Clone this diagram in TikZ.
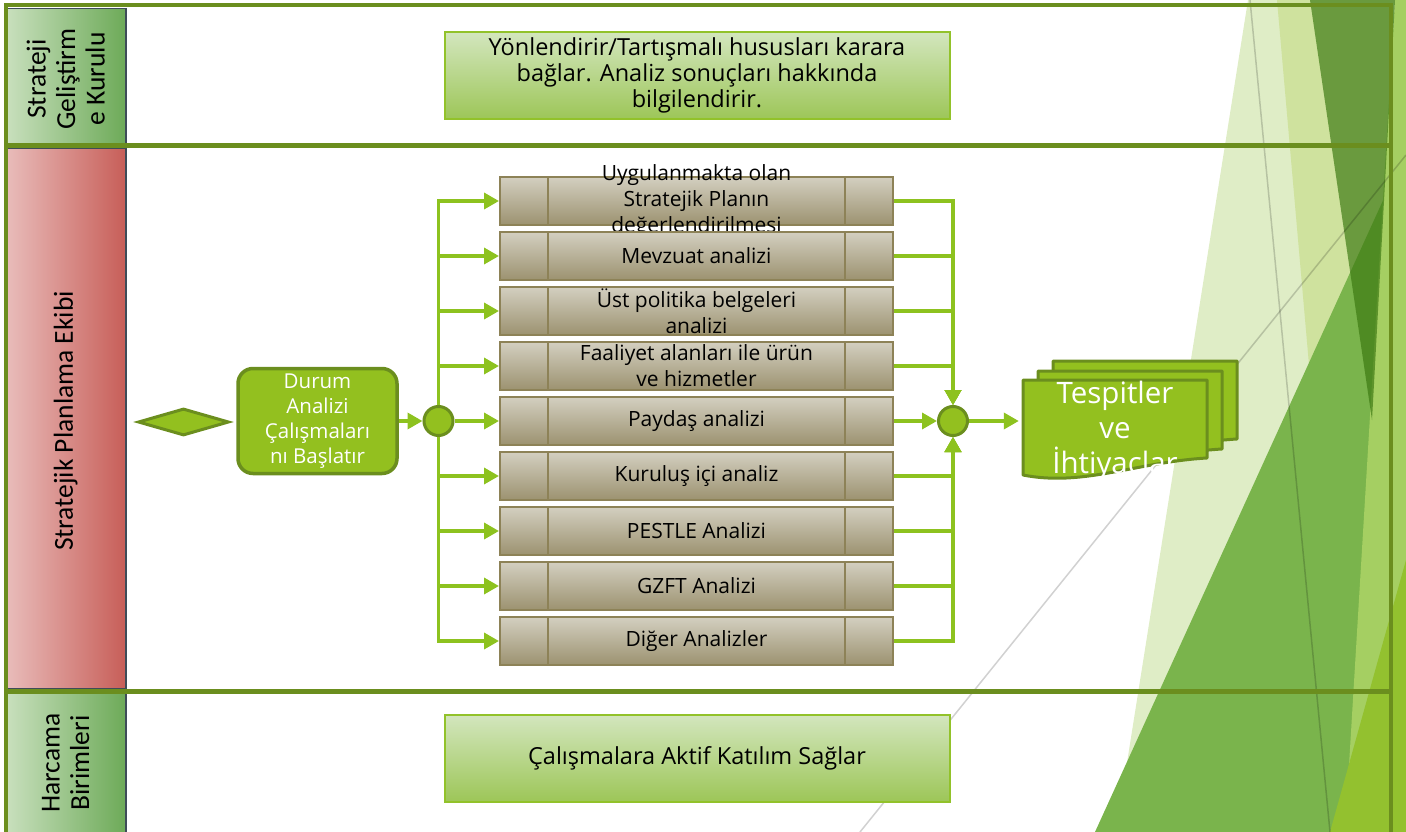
\documentclass[tikz,border=0pt]{standalone}
\usepackage{fontspec}
\setmainfont{Open Sans}
\newfontfamily\lanefont{Carlito}
\usepackage{tikz}
\usetikzlibrary{arrows.meta,shapes.geometric,chains,positioning,calc}

\definecolor{olive}{HTML}{6B8E1E}
\definecolor{leaf}{HTML}{93C01F}
\definecolor{bus}{HTML}{8DC21F}
\definecolor{slate}{HTML}{3E4C58}
\definecolor{laneL}{HTML}{C9E0BE}
\definecolor{laneD}{HTML}{6DAA58}
\definecolor{redL}{HTML}{E9BDBB}
\definecolor{redD}{HTML}{C75E58}
\definecolor{noteT}{HTML}{D3E6BE}
\definecolor{noteB}{HTML}{9DC658}
\definecolor{noteD}{HTML}{92C22A}
\definecolor{khakiT}{HTML}{D3CFC0}
\definecolor{khakiB}{HTML}{9C9270}
\definecolor{khakiD}{HTML}{8D8257}
\definecolor{pale}{HTML}{DFEDC6}
\definecolor{pale2}{HTML}{CFE29E}
\definecolor{midgreen}{HTML}{7AB44C}
\definecolor{deepgreen}{HTML}{3B7811}
\definecolor{stripgreen}{HTML}{A5CF62}
\definecolor{brightgreen}{HTML}{93C12F}

% one sheet of the stacked document
\newcommand{\docsheet}[1]{%
  \draw[docpage] (#1) -- ++(184,0) -- ++(0,78)
    .. controls +(-70,4) and +(60,12) .. ++(-184,17) -- cycle;}

\begin{document}
\begin{tikzpicture}[x=1pt, y=-1pt,
    frame/.style={draw=olive, line width=4pt},
    lane/.style={
      rotate=90,
      draw=slate,
      line width=1.5pt,
      minimum height=120.5pt,
      inner sep=0pt,
      align=center,
      font=\lanefont\fontsize{27.5}{29.5}\selectfont
    },
    greenlane/.style={lane, left color=laneL, right color=laneD},
    redlane/.style={lane, left color=redL, right color=redD},
    note/.style={
      rectangle,
      draw=noteD,
      line width=2pt,
      top color=noteT,
      bottom color=noteB,
      minimum width=505pt,
      minimum height=87pt,
      inner sep=0pt,
      align=center,
      font=\fontsize{23.5}{26}\selectfont
    },
    analiz/.style={
      rectangle,
      on chain,
      draw=khakiD,
      line width=2pt,
      top color=khakiT,
      bottom color=khakiB,
      minimum width=393pt,
      minimum height=48pt,
      inner sep=0pt,
      align=center,
      font=\fontsize{21}{26}\selectfont,
      path picture={
        \draw[khakiD, line width=2pt]
          ([xshift=48pt]path picture bounding box.north west) --
          ([xshift=48pt]path picture bounding box.south west)
          ([xshift=-48pt]path picture bounding box.north east) --
          ([xshift=-48pt]path picture bounding box.south east);
      }
    },
    task/.style={
      rectangle,
      rounded corners=15pt,
      draw=olive,
      line width=3.5pt,
      fill=leaf,
      text=white,
      align=center,
      inner sep=0pt,
      minimum width=159pt,
      minimum height=105pt,
      font=\fontsize{20.5}{25}\selectfont
    },
    startev/.style={diamond, draw=olive, line width=3pt, fill=leaf,
      minimum width=91pt, minimum height=27pt, inner sep=0pt},
    gate/.style={circle, draw=olive, line width=3pt, fill=leaf,
      minimum size=29pt, inner sep=0pt},
    docpage/.style={draw=olive, line width=3pt, fill=leaf, line join=round},
    doctext/.style={text=white, align=center, inner sep=0pt,
      minimum width=184pt, font=\fontsize{29.5}{35}\selectfont},
    flow/.style={draw=bus, line width=3.5pt,
      -{Triangle[length=15pt,width=16pt]}},
    start chain=going below,
    node distance=5pt
  ]
  \useasboundingbox (0,0) rectangle (1406,832);

  % background facets
  \fill[pale] (1248,0) -- (1406,0) -- (1406,832) -- (1116,832) -- cycle;
  \fill[pale2] (1277,0) -- (1395,0) -- (1350,832) -- cycle;
  \fill[midgreen] (1406,150) -- (1406,832) -- (1095,832) -- cycle;
  \fill[stripgreen] (1395,0) -- (1406,0) -- (1406,832) -- (1345,832) -- cycle;
  \fill[deepgreen, fill opacity=.68] (1310,0) -- (1395,0) -- (1372,420) -- cycle;
  \fill[brightgreen] (1330,832) -- (1406,560) -- (1406,832) -- cycle;
  \draw[black, draw opacity=.18, line width=1.5pt] (1250,0) -- (1330,832);
  \draw[black, draw opacity=.18, line width=1.5pt] (860,832) -- (1406,155);

  % lanes
  \node[greenlane, minimum width=140.5pt] (h1) at (65.75,79)
    {Strateji\\Geliştirm\\e Kurulu};
  \node[redlane, minimum width=545.5pt] (h2) at (65.75,421)
    {Stratejik Planlama Ekibi};
  \node[greenlane, minimum width=148.5pt] (h3) at (65.75,763)
    {Harcama\\Birimleri};
  \draw[frame] (5.5,840) -- (5.5,5.5) -- (1391,5.5) -- (1391,840);
  \draw[frame, line width=5pt] (5.5,146) -- (1391,146);
  \draw[frame, line width=5pt] (5.5,691.5) -- (1391,691.5);

  \node[note] (kurul) at (697,75.5)
    {Yönlendirir/Tartışmalı hususları karara\\bağlar. Analiz sonuçları hakkında\\bilgilendirir.};
  \node[note] (birim) at (697,758) {Çalışmalara Aktif Katılım Sağlar};

  % analysis steps
  \node[analiz] (a1) at (696.5,201)
    {\smash{\raisebox{-5pt}{\begin{tabular}{@{}c@{}}Uygulanmakta olan\\Stratejik Planın\\değerlendirilmesi\end{tabular}}}};
  \node[analiz] (a2) {Mevzuat analizi};
  \node[analiz] (a3) {Üst politika belgeleri\\analizi};
  \node[analiz] (a4) {Faaliyet alanları ile ürün\\ve hizmetler};
  \node[analiz] (a5) {Paydaş analizi};
  \node[analiz] (a6) {Kuruluş içi analiz};
  \node[analiz] (a7) {PESTLE Analizi};
  \node[analiz] (a8) {GZFT Analizi};
  \node[analiz] (a9) {Diğer Analizler};

  \node[startev] (start) at (183.5,422) {};
  \node[task] (durum) at (317.5,421) {Durum\\Analizi\\Çalışmaları\\nı Başlatır};
  \node[gate] (lg) at (438.5,421) {};
  \node[gate] (rg) at (953,421) {};

  \docsheet{1053,361}
  \docsheet{1038,371}
  \docsheet{1023,380}
  \node[doctext] (tespit) at (1115,431) {Tespitler\\ve\\İhtiyaclar};

  \draw[flow] (durum) -- (lg);
  \draw[flow] (lg.north) |- (a1);
  \draw[flow] (lg.north) |- (a2);
  \draw[flow] (lg.north) |- (a3);
  \draw[flow] (lg.north) |- (a4);
  \draw[flow] (lg) -- (a5);
  \draw[flow] (lg.south) |- (a6);
  \draw[flow] (lg.south) |- (a7);
  \draw[flow] (lg.south) |- (a8);
  \draw[flow] (lg.south) |- (a9);
  \draw[flow] (a1) -| (rg);
  \draw[flow] (a2) -| (rg);
  \draw[flow] (a3) -| (rg);
  \draw[flow] (a4) -| (rg);
  \draw[flow] (a5) -- (rg);
  \draw[flow] (a6) -| (rg);
  \draw[flow] (a7) -| (rg);
  \draw[flow] (a8) -| (rg);
  \draw[flow] (a9) -| (rg);
  \draw[flow, shorten >=4pt] (rg) -- (rg -| tespit.west);
\end{tikzpicture}
\end{document}
